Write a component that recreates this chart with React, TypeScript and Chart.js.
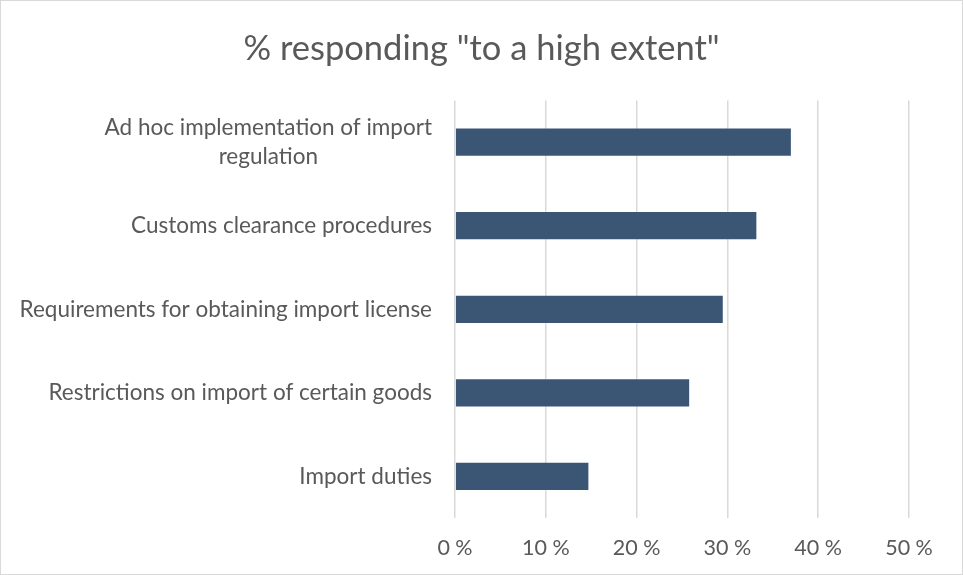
import React, { useEffect, useRef } from "react";
import { Chart, registerables } from "chart.js";

Chart.register(...registerables);

const TITLE = '% responding "to a high extent"';
const CATEGORIES: (string | string[])[] = [
  ["Ad hoc implementation of import", "regulation"],
  "Customs clearance procedures",
  "Requirements for obtaining import license",
  "Restrictions on import of certain goods",
  "Import duties",
];
const VALUES = [37.1, 33.3, 29.6, 25.9, 14.8];
const X_MIN = 0;
const X_MAX = 50;
const X_STEP = 10;

const FONT = "Lato";
const TEXT_COLOR = "#595959";
const BAR_COLOR = "#3B5674";
const GRID_COLOR = "#d9d9d9";

const yLabelPlugin = {
  id: "yLabels",
  afterDraw(chart: any) {
    const ctx = chart.ctx;
    const y = chart.scales.y;
    const area = chart.chartArea;
    const right = area.left - 23;
    const lh = 29;
    ctx.save();
    ctx.font = `22.5px ${FONT}`;
    ctx.fillStyle = TEXT_COLOR;
    ctx.textBaseline = "middle";
    ctx.textAlign = "center";
    CATEGORIES.forEach((lab, i) => {
      const lines = Array.isArray(lab) ? lab : [lab];
      const maxW = Math.max(...lines.map((l) => ctx.measureText(l).width));
      const cx = right - maxW / 2;
      const cy = y.getPixelForValue(i);
      lines.forEach((l, j) => {
        ctx.fillText(l, cx, cy + (j - (lines.length - 1) / 2) * lh);
      });
    });
    ctx.restore();
  },
};

export default function App() {
  const ref = useRef<HTMLCanvasElement>(null);
  useEffect(() => {
    if (!ref.current) return;
    const chart = new Chart(ref.current, {
      type: "bar",
      data: {
        labels: CATEGORIES as any,
        datasets: [
          {
            data: VALUES,
            backgroundColor: BAR_COLOR,
            borderColor: "rgba(255,255,255,0.3)",
            borderWidth: 1,
            categoryPercentage: 1,
            barPercentage: 0.35,
          },
        ],
      },
      options: {
        indexAxis: "y",
        animation: false,
        responsive: true,
        maintainAspectRatio: false,
        layout: { padding: { left: 53, right: 53, top: 0, bottom: -4 } },
        plugins: {
          legend: { display: false },
          tooltip: { enabled: false },
          title: {
            display: true,
            text: TITLE,
            color: TEXT_COLOR,
            font: { family: FONT, size: 34.5, weight: "normal" },
            padding: { top: 27, bottom: 31 },
          },
        },
        scales: {
          x: {
            min: X_MIN,
            max: X_MAX,
            ticks: {
              stepSize: X_STEP,
              color: TEXT_COLOR,
              font: { family: FONT, size: 21.5 },
              padding: 17,
              callback: (v: any) => `${v} %`,
            },
            grid: { color: GRID_COLOR, lineWidth: 1.5, drawTicks: false },
            border: { display: false },
          },
          y: {
            ticks: { display: false },
            grid: { display: false, drawTicks: false },
            border: { display: false },
            afterFit: (scale: any) => {
              scale.width = 401;
            },
          },
        },
      },
      plugins: [yLabelPlugin],
    });
    return () => chart.destroy();
  }, []);
  return (
    <div
      style={{
        position: "fixed",
        left: 0,
        top: 0,
        width: 963,
        height: 575,
        border: "1px solid #d9d9d9",
        boxSizing: "border-box",
        background: "#fff",
      }}
    >
      <div style={{ position: "relative", width: 961, height: 573 }}>
        <canvas ref={ref} />
      </div>
    </div>
  );
}
